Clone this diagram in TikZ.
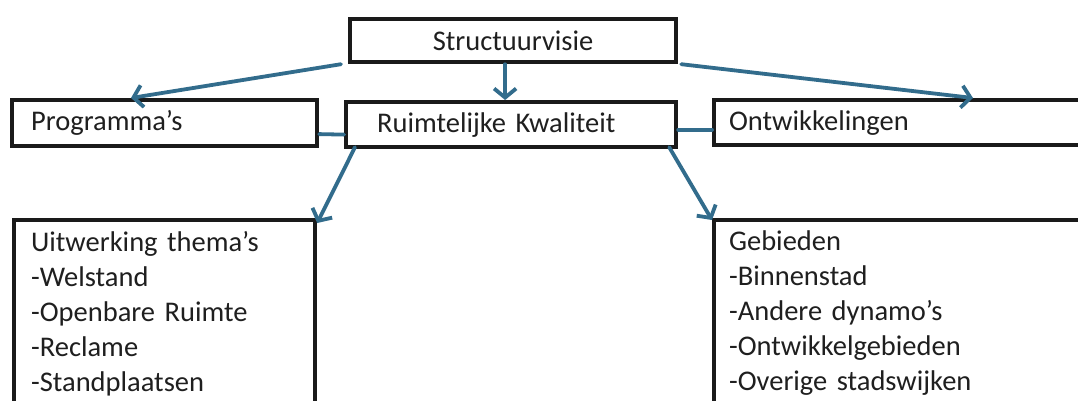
\documentclass[tikz,border=0pt]{standalone}
\usepackage{fontspec}
\setmainfont{Carlito}
\usetikzlibrary{arrows.meta,calc}
\definecolor{linkblue}{HTML}{326C8C}
\definecolor{boxline}{HTML}{1A1A1A}
\definecolor{txt}{HTML}{1F1F1F}
\newcommand\diagfont{\fontsize{28.5}{35}\selectfont}
\begin{document}
\begin{tikzpicture}[x=1pt,y=-1pt,
  box/.style={draw=boxline, line width=4.2pt, rectangle, anchor=north west,
    inner ysep=0pt, font=\diagfont, text=txt, align=left},
  tallbox/.style={box, inner ysep=11pt},
  link/.style={draw=linkblue, line width=3.8pt, line cap=round},
  arr/.style={link, -{Straight Barb[length=9pt,width=22pt,line width=3.8pt]}}
]
\useasboundingbox (0,0) rectangle (1078,400);
\clip (0,0) rectangle (1078,400);
\fill[white] (0,0) rectangle (1078,400);

\node[box, align=center, inner xsep=10pt, text width=306pt, minimum height=43pt] (s) at (348,17) {Structuurvisie};
\node[box, inner xsep=19pt, text width=267pt, minimum height=46pt] (p) at (10,98) {Programma’s};
\node[box, inner xsep=31pt, text width=268pt, minimum height=45pt] (r) at (344,100) {Ruimtelijke Kwaliteit};
\node[box, inner xsep=15pt, text width=380pt, minimum height=45pt] (o) at (712,98) {Ontwikkelingen};
\node[tallbox, inner xsep=17pt, text width=267pt] (bl) at (12,218) {Uitwerking thema’s\\-Welstand\\-Openbare Ruimte\\-Reclame\\-Standplaatsen};
\node[tallbox, inner xsep=15pt, text width=380pt] (br) at (712,218) {Gebieden\\-Binnenstad\\-Andere dynamo’s\\-Ontwikkelgebieden\\-Overige stadswijken};

\draw[arr] ($(s.south west)+(-7,0)$) -- ($(p.north west)+(121,0)$);
\draw[arr] ($(s.south)+(-8,0)$) -- ($(r.north)+(-6,0)$);
\draw[arr] ($(s.south east)+(3,0)$) -- ($(o.north west)+(261,0)$);
\draw[link] ($(r.west)+(0,10)$) -- ($(p.east)+(0,11)$);
\draw[link] ($(r.east)+(0,5)$) -- ($(o.west)+(0,7)$);
\draw[arr] ($(r.south west)+(11,-2)$) -- ($(bl.north east)+(0,5)$);
\draw[arr] ($(r.south east)+(-9,-2)$) -- ($(br.north west)+(0,2)$);
\end{tikzpicture}
\end{document}
